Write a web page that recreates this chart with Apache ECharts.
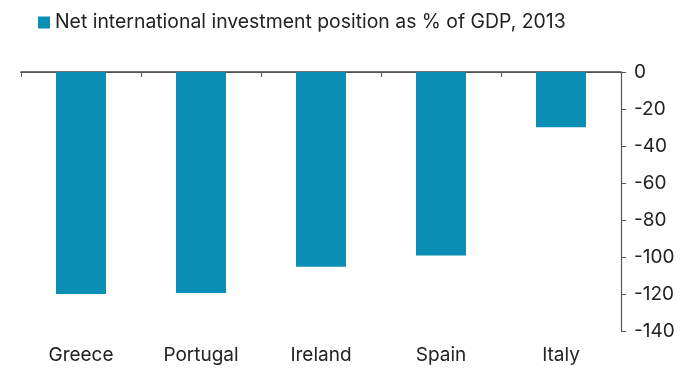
<!DOCTYPE html>
<html>
<head>
<meta charset="utf-8">
<script src="https://cdn.jsdelivr.net/npm/echarts@6/dist/echarts.min.js"></script>
<style>
html,body{margin:0;padding:0;background:#fff;}
#c{width:680px;height:370px;}
</style>
</head>
<body>
<div id="c"></div>
<script>
const categories = ["Greece", "Portugal", "Ireland", "Spain", "Italy"];
const seriesName = "Net international investment position as % of GDP, 2013";
const values = [-120, -119.4, -105.3, -99.2, -29.8];
const yTicks = { min: -140, max: 0, interval: 20 };

const chart = echarts.init(document.getElementById('c'));
const font = 'Inter, Roboto, "Liberation Sans", sans-serif';
chart.setOption({
  animation: false,
  backgroundColor: '#fff',
  textStyle: { fontFamily: font },
  legend: {
    left: 33, top: 8,
    itemWidth: 12, itemHeight: 12, itemGap: 10,
    icon: 'rect',
    textStyle: { fontSize: 19.4, color: '#222', fontFamily: font },
    data: [seriesName]
  },
  grid: { left: 21, right: 59, top: 72, bottom: 39 },
  xAxis: [
    {
      type: 'category', data: categories, position: 'bottom',
      axisLine: { lineStyle: { color: '#444', width: 1.5 } },
      axisTick: { show: false },
      axisLabel: { fontSize: 19, color: '#222', margin: 15, fontFamily: font }
    },
    {
      type: 'category', data: categories, position: 'top',
      axisLine: { lineStyle: { color: '#555', width: 1.2 } },
      axisTick: { show: true, inside: true, length: 5, lineStyle: { color: '#555' } },
      axisLabel: { show: false }
    }
  ],
  yAxis: {
    type: 'value', position: 'right',
    min: yTicks.min, max: yTicks.max, interval: yTicks.interval,
    axisLine: { show: true, lineStyle: { color: '#555', width: 1.2 } },
    axisTick: { show: true, length: 5, lineStyle: { color: '#555' } },
    splitLine: { show: false },
    axisLabel: { fontSize: 19, color: '#222', margin: 13, fontFamily: font }
  },
  series: [{
    name: seriesName, type: 'bar', data: values,
    xAxisIndex: 0, barWidth: 50,
    itemStyle: { color: '#0b8eb6' }
  }]
});
</script>
</body>
</html>
